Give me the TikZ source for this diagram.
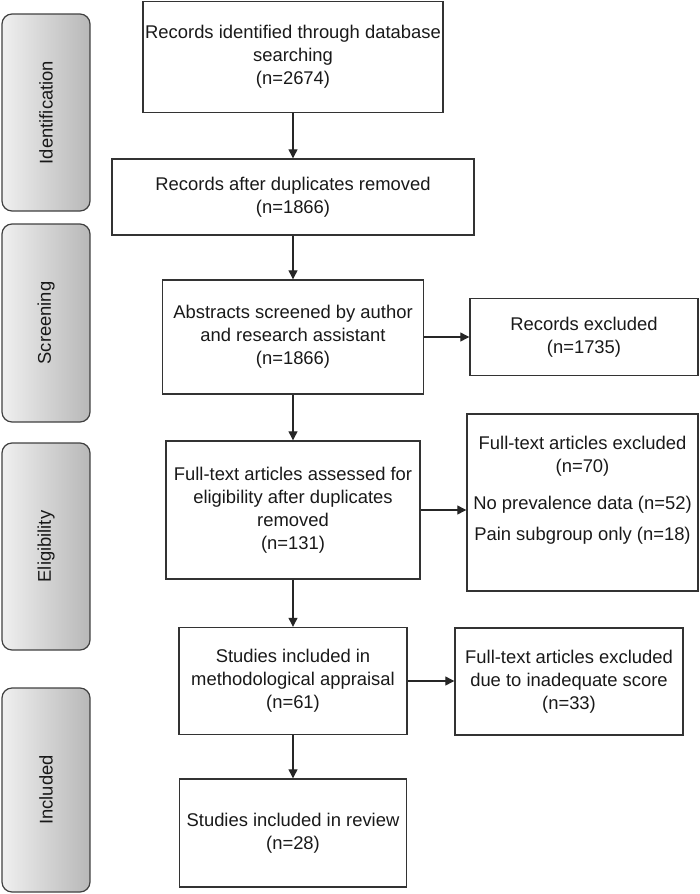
\documentclass[tikz,border=0pt]{standalone}
\usepackage{graphicx}
\usepackage{fontspec}
\setmainfont{Liberation Sans}
\usetikzlibrary{arrows.meta}
\tikzstyle{arrow} = [-{Triangle[length=9pt,width=9pt]},line width=1.2pt,draw=black!85]
\tikzstyle{box} = [draw=black!80,line width=1.4pt,rectangle,align=center,inner sep=0pt,text=black!90]
\tikzstyle{stage} = [draw=black!75,line width=1.2pt,rounded corners=10pt,left color=black!6,right color=black!28,minimum width=88pt,inner sep=0pt,text=black!90]

\begin{document}
\begin{tikzpicture}[x=1pt,y=-1pt,font=\fontsize{18.4}{23}\selectfont]
        \useasboundingbox (0,0) rectangle (699,894);
        % stages on the left
        \node[stage,minimum height=197pt] at (46, 112.5) (ident) {\rotatebox{90}{Identification}};
        \node[stage,minimum height=198pt] at (46, 323) (screen) {\rotatebox{90}{Screening}};
        \node[stage,minimum height=207pt] at (46, 546.5) (elig) {\rotatebox{90}{Eligibility}};
        \node[stage,minimum height=204pt] at (46, 790) (incl) {\rotatebox{90}{Included}};

        % main flow
        \node[box,minimum width=300pt,minimum height=111pt] at (293, 57) (found) {Records identified through database\\searching\\(n=2674)};
        \node[box,minimum width=362pt,minimum height=76pt] at (293, 197) (dedup) {Records after duplicates removed\\(n=1866)};
        \node[box,minimum width=261pt,minimum height=114pt] at (293, 337) (abstr) {Abstracts screened by author\\and research assistant\\(n=1866)};
        \node[box,minimum width=254pt,minimum height=138pt] at (293, 510) (fulltext) {Full-text articles assessed for\\eligibility after duplicates\\removed\\(n=131)};
        \node[box,minimum width=228pt,minimum height=107pt] at (293, 681) (apprais) {Studies included in\\methodological appraisal\\(n=61)};
        \node[box,minimum width=227pt,minimum height=108pt] at (293, 833) (review) {Studies included in review\\(n=28)};

        % exclusions
        \node[box,minimum width=228pt,minimum height=77pt] at (584, 337) (excl1) {Records excluded\\(n=1735)};
        \node[box,minimum width=231pt,minimum height=177pt] at (582.5, 502.5) (excl2) {};
        \node[align=center,anchor=north,inner sep=0pt,text=black!90] at (582.5, 436) (excl2txt) {Full-text articles excluded\\(n=70)\\[14pt]No prevalence data (n=52)\\[8pt]Pain subgroup only (n=18)};
        \node[box,minimum width=228pt,minimum height=107pt] at (569, 681.5) (excl3) {Full-text articles excluded\\due to inadequate score\\(n=33)};

        \draw[arrow] (found) -- (dedup);
        \draw[arrow] (dedup) -- (abstr);
        \draw[arrow] (abstr) -- (fulltext);
        \draw[arrow] (fulltext) -- (apprais);
        \draw[arrow] (apprais) -- (review);
        \draw[arrow] (abstr.east) -- (abstr.east -| excl1.west);
        \draw[arrow] (fulltext.east) -- (fulltext.east -| excl2.west);
        \draw[arrow] (apprais.east) -- (apprais.east -| excl3.west);
\end{tikzpicture}
\end{document}
